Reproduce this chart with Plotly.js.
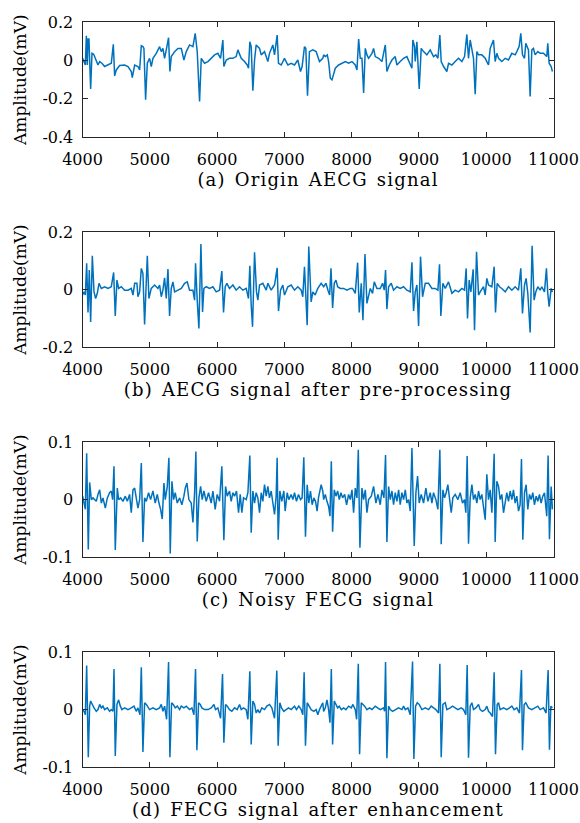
<!DOCTYPE html>
<html>
<head>
<meta charset="utf-8">
<script src="https://cdn.plot.ly/plotly-3.0.1.min.js"></script>
<style>
  html, body { margin: 0; padding: 0; background: #ffffff; }
  #chart { width: 580px; height: 823px; }
  text.xtitle, text.x2title, text.x3title, text.x4title { letter-spacing: 1.2px; word-spacing: 2px; }
</style>
</head>
<body>
<div id="chart"></div>
<script>
// ---------- Data ----------
const xTickVals = [4000, 5000, 6000, 7000, 8000, 9000, 10000, 11000];
const xTickText = ['4000', '5000', '6000', '7000', '8000', '9000', '10000', '11000'];

const captions = [
  '(a) Origin AECG signal',
  '(b) AECG signal after pre-processing',
  '(c) Noisy FECG signal',
  '(d) FECG signal after enhancement'
];
const yLabel = 'Amplitude(mV)';

const aYRange = [-0.4, 0.2];
const aYTicks = [-0.4, -0.2, 0, 0.2];
const aYTickText = ['-0.4', '-0.2', '0', '0.2'];
const bYRange = [-0.2, 0.2];
const bYTicks = [-0.2, 0, 0.2];
const bYTickText = ['-0.2', '0', '0.2'];
const cYRange = [-0.1, 0.1];
const cYTicks = [-0.1, 0, 0.1];
const cYTickText = ['-0.1', '0', '0.1'];
const dYRange = [-0.1, 0.1];
const dYTicks = [-0.1, 0, 0.1];
const dYTickText = ['-0.1', '0', '0.1'];

// (a) Origin AECG signal
const aX = [
4002,4042,4057,4072,4082,4096,4121,4141,4166,4205,
4230,4255,4289,4329,4379,4428,4458,4478,4502,4552,
4626,4676,4725,4740,4775,4824,4849,4874,4898,4913,
4938,4963,4997,5022,5047,5096,5146,5171,5195,5220,
5245,5279,5299,5319,5369,5418,5468,5507,5542,5591,
5641,5675,5705,5740,5765,5814,5864,5913,5963,6012,
6052,6086,6101,6136,6185,6235,6284,6309,6359,6408,
6448,6467,6487,6507,6532,6557,6581,6631,6656,6705,
6755,6779,6829,6854,6893,6913,6953,7002,7052,7101,
7151,7200,7240,7264,7299,7319,7344,7373,7423,7472,
7522,7571,
7584,7609,7638,7658,7683,7708,7732,7757,7807,7856,
7906,7955,8005,8054,8079,8104,8128,8153,8178,8203,
8227,8252,8302,8326,8351,8401,8450,8500,8524,8559,
8599,8648,8673,8722,8772,8821,8871,8896,8910,8935,
8945,8970,9004,9034,9069,9118,9168,9217,9252,9282,
9311,9331,9366,9415,9440,9490,9539,9589,9638,9678,
9712,9737,9762,9787,9811,9836,9861,9886,9935,9985,
10034,10059,10108,10133,10158,10183,10232,10282,10331,10381,
10430,10455,10489,10514,10539,10569,10588,10628,10653,10678,
10702,10727,10767,10801,10851,10900,10915,10935,10965,10984
];
const aY = [
0.012,-0.023,0.130,-0.023,0.113,0.113,-0.148,0.038,0.033,0.003,
-0.023,-0.005,-0.014,-0.031,-0.023,-0.014,0.085,-0.080,-0.049,-0.026,
-0.023,-0.031,-0.057,-0.089,-0.023,-0.031,-0.049,0.078,0.073,0.064,
-0.205,-0.014,0.012,-0.031,0.012,0.038,0.073,0.047,0.064,0.012,
0.056,0.120,-0.057,0.021,0.047,0.064,0.064,0.003,0.047,0.082,
0.073,0.143,0.047,-0.214,0.012,-0.014,-0.005,0.012,0.030,0.038,
0.012,0.108,-0.031,0.003,0.012,0.012,0.021,0.056,0.012,-0.005,
-0.023,-0.040,0.099,0.073,-0.158,0.003,0.082,0.064,0.030,0.047,
-0.005,0.038,0.082,0.030,0.134,-0.014,-0.023,0.012,-0.023,-0.014,
-0.023,0.003,-0.057,-0.031,0.073,0.064,-0.184,0.047,0.056,0.047,
-0.005,0.012,
0.030,0.021,0.030,-0.005,-0.092,-0.101,-0.066,-0.040,-0.023,-0.014,
-0.005,-0.014,-0.005,-0.023,-0.049,0.113,0.012,0.012,-0.170,0.064,
0.030,0.012,0.038,0.064,0.021,0.012,-0.005,0.082,-0.057,-0.023,
0.003,0.021,-0.023,-0.005,0.012,0.021,-0.014,-0.040,0.108,0.073,
-0.005,0.099,-0.148,0.064,0.047,0.030,0.056,0.021,0.030,0.012,
0.134,-0.005,-0.031,-0.057,-0.014,-0.023,-0.005,0.012,-0.005,0.021,
0.137,0.012,0.108,0.047,0.012,-0.176,0.047,0.030,0.030,0.012,
-0.023,0.064,0.108,-0.005,0.038,0.012,-0.005,0.012,0.003,0.038,
0.030,0.047,0.073,0.143,0.030,0.012,0.090,0.056,-0.188,0.056,
0.064,0.030,0.047,0.038,0.038,0.021,0.090,-0.014,-0.031,-0.057
];

// (b) AECG signal after pre-processing
const bX = [
4002,4022,4042,4062,4082,4101,4121,4146,4171,4195,
4220,4245,4280,4329,4379,4428,4463,4487,4512,4537,
4577,4626,4676,4725,4750,4775,4809,4824,4849,4874,
4898,4923,4963,4987,5022,5072,5121,5146,5171,5195,
5220,5245,5270,5294,5319,5344,5369,5418,5468,5517,
5557,5591,5641,5666,5680,5705,5730,5760,5784,5804,
5839,5888,5938,5987,6037,6071,6096,6121,6146,6185,
6235,6284,6334,6383,6433,6467,6487,6507,6527,6557,
6586,6606,6631,6680,6730,6755,6804,6854,6893,6913,
6943,6977,7002,7052,7101,7151,7200,7250,7274,7299,
7319,7339,7363,7398,7423,7457,7497,7547,
7584,7618,7648,7673,7693,7717,7742,7767,7792,7831,
7881,7930,7980,8014,8054,8089,8113,8143,8168,8198,
8227,8252,8277,8311,8336,8376,8425,8460,8485,8504,
8524,8549,8589,8623,8673,8722,8772,8821,8871,8896,
8920,8945,8970,8995,9024,9054,9094,9143,9193,9242,
9282,9306,9326,9356,9391,9440,9490,9539,9589,9638,
9678,9702,9722,9747,9772,9806,9826,9856,9886,9910,
9960,9985,10009,10034,10084,10118,10138,10163,10197,10232,
10282,10331,10381,10430,10480,10514,10539,10569,10593,10618,
10653,10682,10712,10737,10767,10801,10826,10866,10895,10915,
10935,10965,10984
];
const bY = [
-0.019,-0.008,-0.019,0.092,-0.080,0.068,-0.113,0.118,-0.008,-0.031,
-0.013,0.022,0.004,0.010,0.004,0.010,0.060,-0.092,0.033,0.004,
0.010,-0.002,-0.002,0.004,-0.019,0.022,0.022,-0.025,-0.008,0.074,
0.057,-0.122,0.118,-0.031,0.004,0.016,0.004,0.016,-0.025,-0.002,
0.041,-0.031,0.072,-0.092,0.004,0.027,-0.008,-0.002,0.004,0.022,
0.027,-0.002,-0.002,-0.037,0.092,-0.037,-0.136,0.159,-0.078,0.004,
0.010,0.004,0.010,-0.008,-0.002,0.065,-0.080,0.010,0.022,0.004,
0.016,-0.002,0.010,-0.002,0.004,-0.031,0.083,-0.054,-0.130,0.130,
-0.008,-0.037,0.016,0.022,-0.002,0.022,-0.002,0.016,0.076,-0.075,
-0.002,0.016,-0.019,0.010,0.016,-0.002,0.010,-0.002,-0.025,0.080,
-0.019,-0.124,0.150,-0.043,-0.008,-0.019,0.004,0.022,
0.010,0.022,-0.002,-0.019,0.074,-0.064,0.022,0.033,0.010,0.004,
0.004,-0.002,0.004,0.004,-0.013,0.094,-0.080,0.022,-0.107,0.124,
-0.048,-0.019,0.004,-0.013,0.027,0.004,0.004,0.022,-0.002,0.068,
-0.068,0.010,0.022,-0.002,0.010,0.004,0.010,-0.002,-0.008,0.095,
-0.075,-0.008,0.016,-0.127,0.115,-0.025,0.022,0.022,0.004,0.004,
-0.002,0.088,-0.092,0.022,0.004,0.027,-0.013,-0.002,-0.008,0.004,
-0.002,0.074,-0.101,0.033,-0.008,0.071,-0.142,0.132,-0.019,-0.008,
0.010,-0.019,0.039,0.016,0.010,0.080,-0.080,0.022,0.010,0.004,
-0.008,0.010,-0.002,0.010,-0.002,0.074,-0.083,0.016,0.039,-0.013,
-0.150,0.153,-0.037,-0.008,0.010,-0.002,0.010,-0.008,0.074,-0.013,
-0.060,0.004,-0.008
];

// (c) Noisy FECG signal
const cX = [
4002,4022,4042,4062,4086,4106,4131,4156,4205,4230,
4255,4280,4304,4339,4369,4403,4428,4448,4468,4487,
4517,4537,4567,4601,4636,4666,4700,4725,4750,4775,
4799,4824,4849,4874,4898,4923,4948,4982,5012,5047,
5081,5111,5136,5161,5185,5210,5230,5260,5284,5304,
5329,5354,5378,5408,5443,5477,5507,5527,5552,5581,
5616,5641,5666,5685,5705,5730,5755,5779,5804,5839,
5873,5913,5938,5972,6002,6037,6071,6086,6101,6126,
6151,6185,6210,6235,6260,6289,6319,6344,6368,6393,
6433,6458,6487,6507,6532,6557,6581,6606,6631,6656,
6680,6705,6730,6755,6779,6804,6829,6854,6878,6893,
6908,6933,6962,6992,7012,7042,7066,7101,7126,7151,
7180,7210,7240,7264,7289,7314,7339,7363,7388,7413,
7438,7463,7487,7507,7547,7571,
7584,7609,7633,7658,7678,7698,7717,7742,7767,7792,
7816,7841,7866,7896,7925,7955,7980,8005,8029,8054,
8079,8099,8123,8153,8178,8203,8227,8252,8292,8326,
8361,8391,8425,8450,8480,8504,8524,8549,8574,8599,
8623,8648,8673,8698,8722,8747,8772,8797,8821,8846,
8871,8896,8930,8955,8980,9004,9034,9069,9103,9133,
9168,9193,9217,9252,9282,9311,9331,9356,9381,9405,
9430,9455,9480,9504,9539,9579,9613,9648,9678,9697,
9717,9737,9762,9787,9811,9836,9861,9886,9910,9935,
9960,9985,10009,10034,10059,10084,10118,10133,10158,10183,
10207,10232,10257,10282,10306,10331,10356,10381,10405,10430,
10455,10480,10504,10524,10544,10569,10593,10618,10643,10668,
10692,10717,10742,10767,10791,10816,10841,10866,10885,10900,
10920,10940,10965,10984
];
const cY = [
0.006,-0.006,-0.017,0.081,-0.087,0.030,0,0.003,-0.003,0.009,
0.017,-0.006,0.003,-0.015,0.003,0.012,0.015,0,0.058,-0.088,
0.020,0,0.003,-0.003,0.006,-0.003,0.009,-0.023,0.017,0.020,
0,-0.015,0,0.064,-0.074,0.003,-0.003,0.012,0,0.015,
-0.006,0.009,-0.006,-0.017,-0.034,0.029,0,0.023,0.073,-0.094,
0.032,0,0.012,-0.006,0.003,-0.009,0.006,0.020,0.029,0,
-0.006,-0.040,0.012,0.084,-0.073,0.003,0.023,0,0.015,-0.003,
0.012,-0.006,0.015,-0.017,0.009,-0.003,0.058,-0.009,-0.071,0.023,
0.006,0.015,-0.003,0.012,0.006,0.015,-0.023,0.009,-0.023,0.003,
0,0.012,0.077,-0.058,0.015,-0.006,0.012,0.003,-0.023,0.012,
-0.003,0.026,0.006,0.023,0.003,0.015,-0.006,-0.026,0.006,0.073,
-0.070,0.015,-0.003,0.015,-0.020,0.012,0,0.009,0,0.012,
-0.003,0.009,0,0.003,0.074,-0.065,0.026,-0.006,0.015,-0.009,
0.003,-0.003,-0.020,0.003,0.026,0.015,
0,0.009,-0.003,-0.012,-0.029,0.067,-0.056,0.017,0.006,0.015,
0,0.012,0.003,0.009,-0.009,0.009,0,0.017,-0.023,0.020,
0.003,0.087,-0.084,0.020,0,0.017,-0.023,0,0.006,0.023,
-0.006,0.009,-0.009,0.017,0.003,0.078,-0.074,0.023,0,0.015,
-0.009,0.012,-0.003,0.017,-0.009,0.012,0,0.017,-0.006,0,
-0.020,0.090,-0.081,0.012,0.041,-0.006,0.009,-0.006,0.020,-0.003,
0.012,-0.006,0.012,0,-0.017,0.087,-0.078,0.017,0.003,0.012,
0.026,-0.003,-0.023,0.003,0.009,0,0.012,-0.006,0,-0.023,
0.076,-0.077,0.003,0.026,0,0.009,-0.006,0.015,0,0.009,
-0.009,-0.035,0.044,0,0.017,-0.023,0.080,-0.074,0.032,0.023,
0,0.009,-0.023,0,0.012,-0.003,0.015,0,0.017,-0.006,
0.006,-0.020,-0.009,0.071,-0.070,0.012,0.026,-0.017,0.009,0,
0.012,-0.009,0.006,-0.003,0.009,-0.006,0.006,0.012,-0.012,-0.029,
0.077,-0.069,0.023,-0.017
];

// (d) FECG signal after enhancement
const dX = [
4002,4022,4042,4062,4086,4106,4121,4141,4171,4205,
4230,4255,4280,4304,4329,4369,4403,4428,4453,4468,
4487,4512,4537,4562,4586,4626,4676,4725,4765,4799,
4824,4854,4874,4898,4923,4948,4973,4997,5047,5096,
5146,5171,5195,5220,5250,5279,5299,5324,5349,5378,
5408,5443,5468,5507,5542,5591,5626,5656,5680,5700,
5725,5750,5774,5814,5864,5913,5953,5977,6012,6052,
6081,6101,6126,6151,6185,6220,6260,6299,6334,6359,
6393,6433,6458,6487,6507,6532,6557,6581,6606,6631,
6665,6705,6740,6779,6814,6854,6888,6908,6933,6958,
6992,7027,7061,7101,7151,7180,7215,7250,7274,7294,
7314,7339,7363,7398,7438,7472,7497,7522,7571,
7584,7609,7633,7658,7678,7698,7717,7742,7767,7792,
7816,7846,7881,7915,7955,7995,8019,8054,8074,8099,
8118,8143,8168,8193,8227,8267,8302,8351,8386,8425,
8475,8490,8504,8524,8549,8574,8608,8648,8698,8747,
8772,8797,8836,8871,8905,8925,8950,8975,9004,9044,
9094,9143,9183,9217,9252,9292,9311,9331,9356,9391,
9415,9465,9499,9539,9579,9628,9663,9697,9717,9737,
9762,9787,9811,9846,9886,9910,9945,9985,10009,10034,
10059,10093,10118,10138,10163,10183,10207,10257,10306,10346,
10381,10415,10455,10494,10524,10539,10564,10588,10628,10678,
10727,10767,10801,10851,10890,10920,10940,10960,10984
];
const dY = [
0,-0.003,-0.009,0.077,-0.083,0.006,0.015,0.009,0.003,-0.003,
0,0.009,0.003,0.006,0,0.003,-0.003,0,-0.003,0.071,
-0.081,0.009,0.017,0.006,0,0.003,0,0.003,0.006,-0.003,
0.003,-0.009,0.074,-0.074,0.012,0.009,0.003,0,0.003,0,
0.003,0.009,-0.003,0.006,-0.017,0.083,-0.083,0.012,0.009,0.003,
0.006,0,0.006,0.003,0.006,0,0.003,-0.009,0.071,-0.071,
0.012,0.009,0.003,0,0,0.003,0.009,0,0.003,-0.015,
0.062,-0.058,0.009,0.006,0,-0.003,0.003,0,0.009,0,
0.003,0,-0.017,0.067,-0.061,0.015,0.009,-0.006,0,-0.006,
0.003,0,0.006,0.009,0.003,-0.015,0.068,-0.063,0.012,0.003,
-0.003,0,0.003,0,0.006,0,0.006,0,-0.009,0.065,
-0.063,0.012,0.006,0,-0.003,0,-0.009,0,0.012,
-0.003,0.003,0.017,0,-0.023,0.071,-0.061,0.015,0.009,0.003,
0.006,0,0.003,0,0.006,0.003,0.009,0,-0.017,0.080,
-0.078,0.012,0.009,0.006,0,0.003,0,0.006,0.003,0,
0.003,-0.003,0.083,-0.085,0.006,0,-0.003,0,0.003,0,
0.006,0,0.003,-0.009,0.084,-0.086,0.006,0.012,0.009,0,
0.003,0,0.006,0.003,0,-0.006,0.080,-0.083,0.009,0.012,
0,0.003,0.006,0.003,0,0.003,0,-0.009,0.078,-0.084,
0.006,0.012,0,0.003,0.009,0,-0.003,0,0.006,-0.003,
-0.006,-0.012,0.065,-0.078,0.009,0.012,0,0.003,0,0.003,
0.006,0,0.003,-0.006,0.069,-0.071,0.009,0.012,0.003,0,
0.003,0.006,0,0.003,-0.006,0.069,-0.070,0.006,0.003
];

// ---------- Figure ----------
const W = 580, H = 823;
const lineColor = '#0072BD';
const axisColor = '#262626';
const fontFamily = '"DejaVu Serif", "Liberation Serif", serif';

const series = [
  { x: aX, y: aY, range: aYRange, ticks: aYTicks, tickText: aYTickText },
  { x: bX, y: bY, range: bYRange, ticks: bYTicks, tickText: bYTickText },
  { x: cX, y: cY, range: cYRange, ticks: cYTicks, tickText: cYTickText },
  { x: dX, y: dY, range: dYRange, ticks: dYTicks, tickText: dYTickText }
];

// panel boxes in pixels (top, bottom) and shared left/right
const boxLeft = 82.5, boxRight = 553.5;
const boxTops = [22.4, 232.3, 442.3, 652.3];
const boxHeight = 114.6;

const traces = [];
const layout = {
  width: W, height: H,
  margin: { l: 0, r: 0, t: 0, b: 0 },
  paper_bgcolor: '#ffffff',
  plot_bgcolor: '#ffffff',
  showlegend: false,
  font: { family: fontFamily, size: 16, color: axisColor }
};

series.forEach((s, i) => {
  const n = i === 0 ? '' : String(i + 1);
  traces.push({
    type: 'scatter', mode: 'lines',
    x: s.x, y: s.y,
    xaxis: 'x' + n, yaxis: 'y' + n,
    line: { color: lineColor, width: 1.5 },
    hoverinfo: 'skip'
  });
  const top = boxTops[i], bottom = top + boxHeight;
  layout['xaxis' + n] = {
    domain: [boxLeft / W, boxRight / W],
    anchor: 'y' + n,
    range: [4000, 11000],
    tickmode: 'array', tickvals: xTickVals, ticktext: xTickText,
    ticks: 'inside', ticklen: 5, tickwidth: 1, tickcolor: axisColor,
    showline: true, linecolor: axisColor, linewidth: 1, mirror: 'ticks',
    showgrid: false, zeroline: false,
    tickfont: { family: fontFamily, size: 16, color: '#000000' },
    ticklabelstandoff: 8,
    title: { text: captions[i], font: { family: fontFamily, size: 18, color: '#000000' }, standoff: 4 }
  };
  layout['yaxis' + n] = {
    domain: [1 - bottom / H, 1 - top / H],
    anchor: 'x' + n,
    range: s.range,
    tickmode: 'array', tickvals: s.ticks, ticktext: s.tickText,
    ticks: 'inside', ticklen: 5, tickwidth: 1, tickcolor: axisColor,
    showline: true, linecolor: axisColor, linewidth: 1, mirror: 'ticks',
    showgrid: false, zeroline: false,
    tickfont: { family: fontFamily, size: 16, color: '#000000' },
    ticklabelstandoff: 5,
    title: { text: yLabel, font: { family: fontFamily, size: 17, color: '#000000' }, standoff: 11 }
  };
});

Plotly.newPlot('chart', traces, layout, { staticPlot: true, displayModeBar: false });
</script>
</body>
</html>
